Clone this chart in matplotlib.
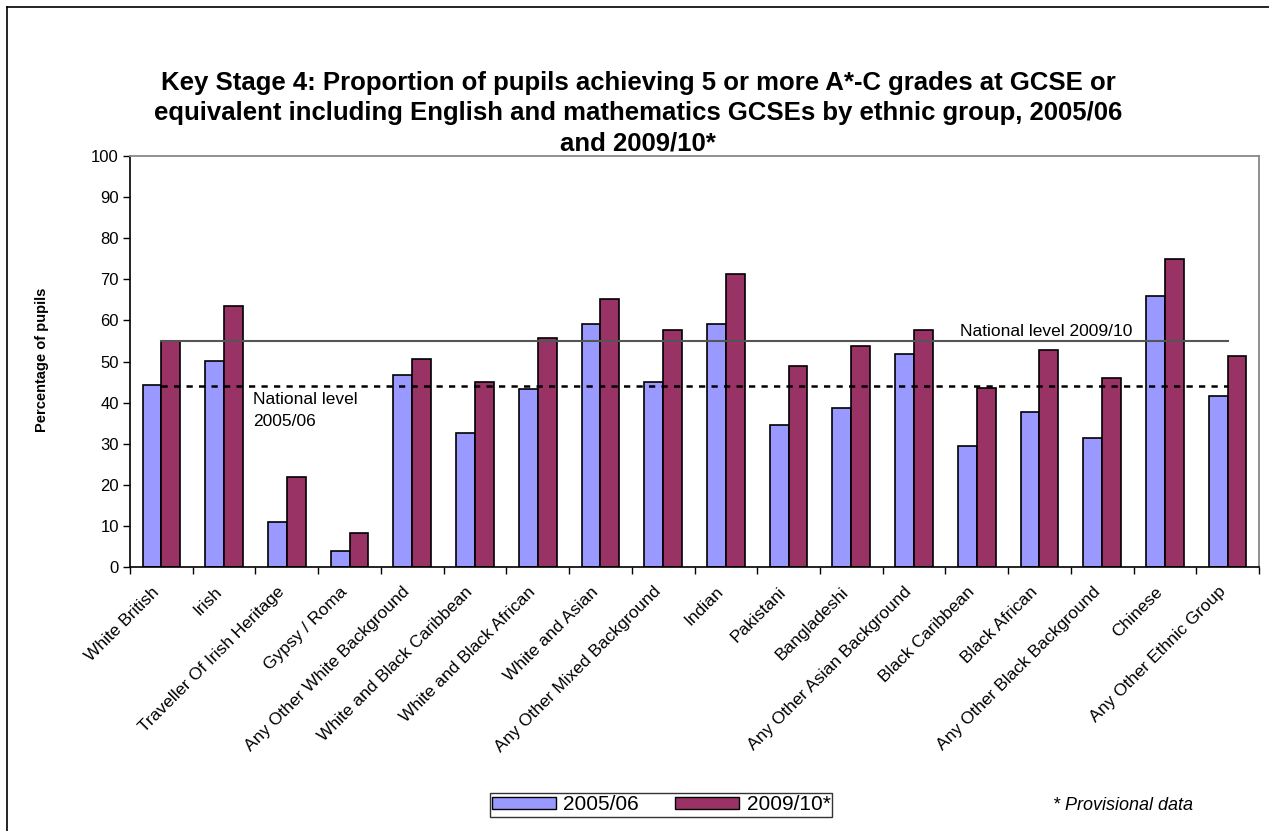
import numpy as np
import matplotlib
matplotlib.use("Agg")
import matplotlib.pyplot as plt
import matplotlib.transforms as mtransforms
from matplotlib.patches import Patch
from matplotlib.lines import Line2D

plt.rcParams['font.family'] = ['Liberation Sans', 'DejaVu Sans']

groups = ['White British', 'Irish', 'Traveller Of Irish Heritage', 'Gypsy / Roma',
          'Any Other White Background', 'White and Black Caribbean',
          'White and Black African', 'White and Asian', 'Any Other Mixed Background',
          'Indian', 'Pakistani', 'Bangladeshi', 'Any Other Asian Background',
          'Black Caribbean', 'Black African', 'Any Other Black Background',
          'Chinese', 'Any Other Ethnic Group']
y2006 = [44.3, 50.2, 11.0, 3.9, 46.7, 32.5, 43.2, 59.2, 45.1,
         59.2, 34.5, 38.8, 51.8, 29.4, 37.6, 31.4, 66.0, 41.5]
y2010 = [54.9, 63.6, 22.0, 8.2, 50.6, 45.1, 55.7, 65.1, 57.6,
         71.4, 49.0, 53.7, 57.6, 43.5, 52.9, 45.9, 75.0, 51.4]
national_2006 = 44.1
national_2010 = 54.9

blue = '#9999FF'
maroon = '#993366'

fig = plt.figure(figsize=(12.69, 8.31), dpi=100)
ax = fig.add_axes([130/1269, 1-567/831, (1259-130)/1269, (567-156)/831])

x = np.arange(len(groups))
w = 0.3
ax.bar(x - w/2, y2006, w, color=blue, edgecolor='black', linewidth=1.2)
ax.bar(x + w/2, y2010, w, color=maroon, edgecolor='black', linewidth=1.2)

ax.plot([0, len(groups)-1], [national_2010]*2, color='#555555', lw=1.5)
ax.plot([0, len(groups)-1], [national_2006]*2, color='black', lw=1.8, ls=(0, (2.5, 2.5)))

ax.text(1.46, 42.6, 'National level\n2005/06', fontsize=12.5, va='top', linespacing=1.55)
ax.text(12.74, 57.4, 'National level 2009/10', fontsize=12.5, va='center')

ax.set_xlim(-0.5, len(groups)-0.5)
ax.set_ylim(0, 100)
ax.set_yticks(range(0, 101, 10))
ax.set_xticks(x)
ax.set_xticklabels(groups, rotation=45, ha='right', rotation_mode='anchor', fontsize=12.5)
ax.set_xticks(np.arange(-0.5, len(groups)), minor=True)
ax.tick_params(axis='x', which='major', length=0, pad=8)
ax.tick_params(axis='x', which='minor', length=5, direction='out', width=1)
ax.tick_params(axis='y', length=5, direction='out', width=1, labelsize=12, pad=3)

# nudge the slanted labels a little left and down
shift = mtransforms.ScaledTranslation(-10/100, -6/100, fig.dpi_scale_trans)
for lbl in ax.get_xticklabels():
    lbl.set_transform(lbl.get_transform() + shift)

for s in ['top', 'right']:
    ax.spines[s].set_color('#888888')
    ax.spines[s].set_linewidth(1.3)
for s in ['left', 'bottom']:
    ax.spines[s].set_color('black')
    ax.spines[s].set_linewidth(1.2)

fig.text(42/1269, 1-360/831, 'Percentage of pupils', rotation=90, fontsize=10.5,
         fontweight='bold', ha='center', va='center')

title = ('Key Stage 4: Proportion of pupils achieving 5 or more A*-C grades at GCSE or\n'
         'equivalent including English and mathematics GCSEs by ethnic group, 2005/06\n'
         'and 2009/10*')
fig.text(638/1269, 1-113/831, title, fontsize=18.5, fontweight='bold',
         ha='center', va='center', linespacing=1.34)

handles = [Patch(facecolor=blue, edgecolor='black', label='2005/06'),
           Patch(facecolor=maroon, edgecolor='black', label='2009/10*')]
leg = fig.legend(handles=handles, ncol=2, loc='center', bbox_to_anchor=(661/1269, 1-805/831),
                 fontsize=15, frameon=True, fancybox=False, handlelength=3.1,
                 handleheight=0.55, handletextpad=0.35, columnspacing=1.7,
                 borderpad=0.1, borderaxespad=0)
leg.get_frame().set_edgecolor('black')
leg.get_frame().set_linewidth(1)

fig.text(1123/1269, 1-805/831, '* Provisional data', fontsize=13, style='italic',
         ha='center', va='center')

# outer border (top and left edges visible)
fig.add_artist(Line2D([7/1269, 1.0], [1-7/831, 1-7/831], color='black', lw=1.2))
fig.add_artist(Line2D([7/1269, 7/1269], [0, 1-7/831], color='black', lw=1.2))

fig.savefig('out.png', dpi=100)
